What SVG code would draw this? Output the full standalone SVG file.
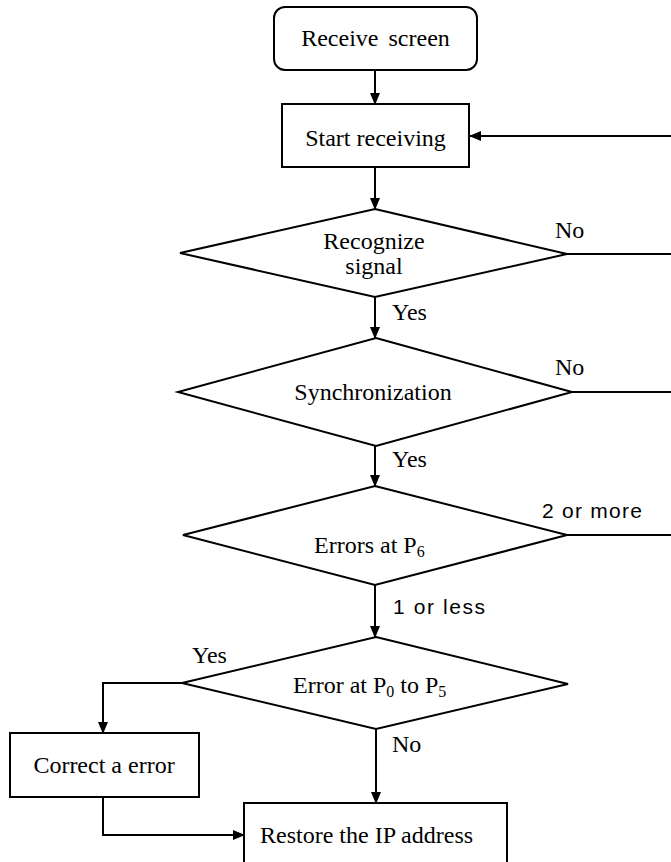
<svg xmlns="http://www.w3.org/2000/svg" width="671" height="862" viewBox="0 0 671 862">
  <style>
    .shape { fill: #fff; stroke: #000; stroke-width: 2; }
    .wire { fill: none; stroke: #000; stroke-width: 2; }
    .lbl { font-family: "Liberation Serif", "Times New Roman", serif; font-size: 24px; fill: #000; }
    .mid { text-anchor: middle; }
    .sub { font-size: 16px; }
    .goth { font-family: "Liberation Sans", Arial, sans-serif; font-size: 21px; fill: #000; }
  </style>
  <defs>
    <marker id="arr" markerWidth="12" markerHeight="10" refX="11" refY="5" orient="auto" markerUnits="userSpaceOnUse">
      <path d="M0,0 L12,5 L0,10 Z" fill="#000"/>
    </marker>
  </defs>

  <!-- connectors -->
  <g id="connectors">
    <line class="wire" x1="375" y1="70" x2="375" y2="104" marker-end="url(#arr)"/>
    <line class="wire" x1="671" y1="136" x2="470" y2="136" marker-end="url(#arr)"/>
    <line class="wire" x1="375" y1="167" x2="375" y2="209" marker-end="url(#arr)"/>
    <line class="wire" x1="567" y1="254" x2="671" y2="254"/>
    <line class="wire" x1="375" y1="297" x2="375" y2="338" marker-end="url(#arr)"/>
    <line class="wire" x1="572" y1="392" x2="671" y2="392"/>
    <line class="wire" x1="375" y1="446" x2="375" y2="486" marker-end="url(#arr)"/>
    <line class="wire" x1="567" y1="535" x2="671" y2="535"/>
    <line class="wire" x1="375" y1="585" x2="375" y2="637" marker-end="url(#arr)"/>
    <polyline class="wire" points="182,683 103,683 103,733" marker-end="url(#arr)"/>
    <line class="wire" x1="376" y1="729" x2="376" y2="803" marker-end="url(#arr)"/>
    <polyline class="wire" points="103,797 103,835 244,835" marker-end="url(#arr)"/>
  </g>

  <!-- connector labels -->
  <g id="labels">
    <text class="lbl" x="555" y="238">No</text>
    <text class="lbl" x="392" y="320">Yes</text>
    <text class="lbl" x="555" y="375">No</text>
    <text class="lbl" x="392" y="467">Yes</text>
    <text class="goth" x="542" y="518" textLength="100" lengthAdjust="spacing">2 or more</text>
    <text class="goth" x="393" y="614" font-size="20" textLength="92" lengthAdjust="spacing">1 or less</text>
    <text class="lbl" x="192" y="663">Yes</text>
    <text class="lbl" x="392" y="752">No</text>
  </g>

  <g id="receive-screen">
    <rect class="shape" x="274" y="7" width="203" height="63" rx="11" ry="11"/>
    <text class="lbl mid" x="375.5" y="46" word-spacing="4">Receive screen</text>
  </g>

  <g id="start-receiving">
    <rect class="shape" x="282" y="104" width="187" height="63"/>
    <text class="lbl mid" x="375.5" y="146">Start receiving</text>
  </g>

  <g id="recognize-signal">
    <polygon class="shape" points="375,209 567,254 375,297 180,253"/>
    <text class="lbl mid" x="374" y="249">Recognize</text>
    <text class="lbl mid" x="374" y="274">signal</text>
  </g>

  <g id="synchronization">
    <polygon class="shape" points="376,338 572,392 376,446 178,392"/>
    <text class="lbl mid" x="373" y="400">Synchronization</text>
  </g>

  <g id="errors-p6">
    <polygon class="shape" points="375,486 567,535 375,585 183,535"/>
    <text class="lbl" x="314" y="553">Errors at P<tspan class="sub" dy="4">6</tspan></text>
  </g>

  <g id="error-p0-p5">
    <polygon class="shape" points="376,637 568,684 376,729 182,683"/>
    <text class="lbl" x="293" y="693">Error at P<tspan class="sub" dy="4">0</tspan><tspan dy="-4"> to P</tspan><tspan class="sub" dy="4">5</tspan></text>
  </g>

  <g id="correct-error">
    <rect class="shape" x="10" y="733" width="189" height="64"/>
    <text class="lbl mid" x="104" y="773">Correct a error</text>
  </g>

  <g id="restore-ip">
    <rect class="shape" x="244" y="803" width="263" height="70"/>
    <text class="lbl" x="260" y="843">Restore the IP address</text>
  </g>
</svg>
